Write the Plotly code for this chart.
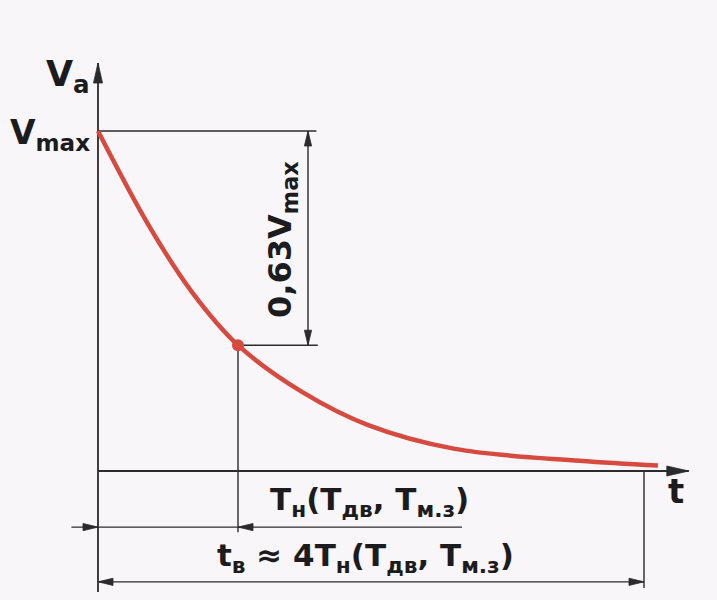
import plotly.graph_objects as go

# ---- data (time in units of T_N, voltage in units of Vmax)
T_CURVE = [0.0, 0.36, 0.67, 1.0, 1.46, 1.93, 2.55, 3.44, 4.0]
V_CURVE = [1.0, 0.724, 0.527, 0.37, 0.232, 0.135, 0.065, 0.03, 0.016]
V_MAX = 1.0
FRACTION = 0.63          # 0,63 Vmax drop
T_N = 1.0                # time constant
T_B = 3.9                # tв ≈ 4 Tн
T_AXIS_END = 4.22
V_AXIS_END = 1.2

LBL_VA = "V<sub>a</sub>"
LBL_VMAX = "V<sub>max</sub>"
LBL_063 = "0,63V<sub>max</sub>"
LBL_T = "t"
LBL_TN = "T<sub>н</sub>(T<sub>дв</sub>, T<sub>м.з</sub>)"
LBL_TB = "t<sub>в</sub> ≈ 4T<sub>н</sub>(T<sub>дв</sub>, T<sub>м.з</sub>)"

# ---- layout constants
W, H = 717, 600
X0, X1 = -0.7, 4.4214
Y0, Y1 = -0.3794, 1.3853
SX = W / (X1 - X0)
SY = H / (Y1 - Y0)

V_POINT = V_MAX - FRACTION
DIM_X = 1.50
Y_DIM1 = -0.165
Y_DIM2 = -0.326
Y_AXIS_BOTTOM = -0.356

LINE = "#2b2a2c"
RED = "#d64a40"
BG = "#f8f6f8"
FONT = "DejaVu Sans"
TXT = "#1c1b1d"

fig = go.Figure()
fig.add_trace(go.Scatter(x=T_CURVE, y=V_CURVE, mode="lines",
                         line=dict(color=RED, width=4.5, shape="spline", smoothing=1.0),
                         hoverinfo="skip", showlegend=False))
fig.add_trace(go.Scatter(x=[T_N], y=[V_POINT], mode="markers",
                         marker=dict(color=RED, size=12), hoverinfo="skip", showlegend=False))

shapes = []


def seg(xa, ya, xb, yb, w=1.4):
    shapes.append(dict(type="line", x0=xa, y0=ya, x1=xb, y1=yb, xref="x", yref="y",
                       line=dict(color=LINE, width=w), layer="below"))


def head(xt, yt, ux, uy, L=15, hw=3.6):
    # ux, uy: direction in screen pixels (y up)
    bx, by = -ux * L, -uy * L
    px, py = -uy * hw, ux * hw
    pts = [(0, 0), (bx + px, by + py), (bx - px, by - py)]
    d = "M " + " L ".join(f"{xt + a / SX:.5f},{yt + b / SY:.5f}" for a, b in pts) + " Z"
    shapes.append(dict(type="path", path=d, xref="x", yref="y",
                       fillcolor=LINE, line=dict(color=LINE, width=0.8)))


# axes
seg(0, Y_AXIS_BOTTOM, 0, V_AXIS_END, 1.8)
head(0, V_AXIS_END, 0, 1, L=20, hw=4.5)
seg(0, 0, T_AXIS_END, 0, 1.8)
head(T_AXIS_END, 0, 1, 0, L=22, hw=5)

# 0,63 Vmax construction
seg(0, V_MAX, DIM_X + 0.06, V_MAX)
seg(T_N, V_POINT, DIM_X + 0.07, V_POINT)
seg(DIM_X, V_MAX, DIM_X, V_POINT)
head(DIM_X, V_MAX, 0, 1)
head(DIM_X, V_POINT, 0, -1)

# Tн dimension
seg(T_N, V_POINT, T_N, Y_DIM1 - 0.015)
seg(-0.19, Y_DIM1, 2.6, Y_DIM1)
head(0, Y_DIM1, 1, 0)
head(T_N, Y_DIM1, -1, 0)

# tв dimension
seg(T_B, 0, T_B, Y_DIM2 - 0.018)
seg(0, Y_DIM2, T_B, Y_DIM2)
head(0, Y_DIM2, -1, 0)
head(T_B, Y_DIM2, 1, 0)

ann = []


def label(txt, x, y, size=31, xanchor="center", yanchor="middle", angle=0):
    ann.append(dict(text=txt, x=x, y=y, xref="x", yref="y", showarrow=False,
                    xanchor=xanchor, yanchor=yanchor, textangle=angle,
                    font=dict(family=FONT, size=size, color=TXT, weight="bold")))


label(LBL_VA, -0.04, 1.16, size=35, xanchor="right")
label(LBL_VMAX, -0.04, 0.99, size=33, xanchor="right")
label(LBL_063, 1.315, 0.68, size=32, angle=-90)
label(LBL_T, 4.13, -0.06, size=34)
label(LBL_TN, 1.94, -0.09)
label(LBL_TB, 1.91, -0.255)

fig.update_layout(
    width=W, height=H, margin=dict(l=0, r=0, t=0, b=0),
    paper_bgcolor=BG, plot_bgcolor=BG,
    xaxis=dict(range=[X0, X1], visible=False, fixedrange=True),
    yaxis=dict(range=[Y0, Y1], visible=False, fixedrange=True),
    shapes=shapes, annotations=ann, showlegend=False,
)
fig.write_html(
    "out.html",
    config={"displayModeBar": False},
    post_script="document.body.style.margin='0';document.body.style.overflow='hidden';"
                "document.body.style.background='" + BG + "';",
)
